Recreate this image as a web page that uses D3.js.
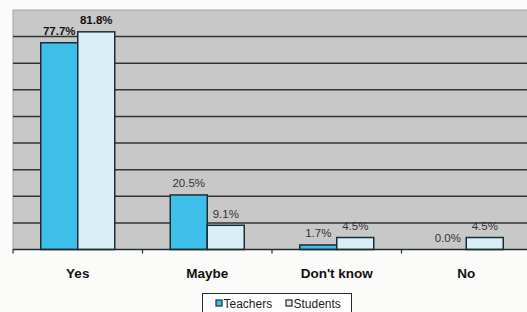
<!DOCTYPE html>
<html>
<head>
<meta charset="utf-8">
<script src="https://cdn.jsdelivr.net/npm/d3@7"></script>
<style>
  html, body { margin: 0; padding: 0; background: #fbfbfa; }
  svg { display: block; font-family: "Liberation Sans", Arial, sans-serif; }
</style>
</head>
<body>
<div id="chart"></div>
<script>
// data
var categories = ["Yes", "Maybe", "Don't know", "No"];
var seriesNames = ["Teachers", "Students"];
var teachers = [77.7, 20.5, 1.7, 0.0];
var students = [81.8, 9.1, 4.5, 4.5];
var yTicks = [10, 20, 30, 40, 50, 60, 70, 80];

var W = 527, H = 312;
var colors = {Teachers: "#3dbfe9", Students: "#d9eff8"};

var svg = d3.select("#chart").append("svg")
  .attr("width", W)
  .attr("height", H);

var x = d3.scaleBand().domain(categories).range([13, 531]).padding(0);
var x1 = d3.scaleBand().domain(seriesNames).range([0, x.bandwidth()])
  .paddingInner(0).paddingOuter(0.75);
var y = d3.scaleLinear().domain([0, 90]).range([249.5, 10]);

// plot area
svg.append("rect")
  .attr("x", x.range()[0])
  .attr("y", y(90))
  .attr("width", x.range()[1] - x.range()[0])
  .attr("height", y(0) - y(90))
  .attr("fill", "#c9c8c8")
  .attr("stroke", "#9fa7a7")
  .attr("stroke-width", 1);

// gridlines
svg.append("g").selectAll("line")
  .data(yTicks)
  .enter()
  .append("line")
  .attr("x1", x.range()[0])
  .attr("x2", x.range()[1])
  .attr("y1", function(d){ return y(d); })
  .attr("y2", function(d){ return y(d); })
  .attr("stroke", "#2c3537")
  .attr("stroke-width", 1.5);

// bars
var rows = categories.map(function(c, i){
  return {cat: c, vals: [
    {name: "Teachers", v: teachers[i]},
    {name: "Students", v: students[i]}
  ]};
});

var groups = svg.append("g").selectAll("g")
  .data(rows)
  .enter()
  .append("g")
  .attr("transform", function(d){ return "translate(" + x(d.cat) + ",0)"; });

groups.selectAll("rect")
  .data(function(d){ return d.vals; })
  .enter()
  .append("rect")
  .filter(function(d){ return d.v > 0; })
  .attr("x", function(d){ return x1(d.name); })
  .attr("y", function(d){ return y(d.v); })
  .attr("width", x1.bandwidth())
  .attr("height", function(d){ return y(0) - y(d.v); })
  .attr("fill", function(d){ return colors[d.name]; })
  .attr("stroke", "#1c2c33")
  .attr("stroke-width", 1.5);

// value labels
groups.each(function(row, gi){
  d3.select(this).selectAll("text")
    .data(row.vals)
    .enter()
    .append("text")
    .attr("x", function(d){ return x1(d.name) + x1.bandwidth() / 2; })
    .attr("y", function(d){ return y(d.v) - 7.5; })
    .attr("text-anchor", "middle")
    .attr("font-size", "11.5px")
    .attr("font-weight", gi === 0 ? "bold" : "normal")
    .attr("fill", gi === 0 ? "#111" : "#333")
    .text(function(d){ return d.v.toFixed(1) + "%"; });
});

// x axis
var xAxis = svg.append("g")
  .attr("transform", "translate(0," + y(0) + ")");
xAxis.append("line")
  .attr("x1", x.range()[0]).attr("x2", x.range()[1])
  .attr("stroke", "#1c2c33").attr("stroke-width", 1.5);
xAxis.selectAll("line.tick")
  .data(categories.map(function(c){ return x(c); }))
  .enter()
  .append("line")
  .attr("class", "tick")
  .attr("x1", function(d){ return d; })
  .attr("x2", function(d){ return d; })
  .attr("y1", 0).attr("y2", 4)
  .attr("stroke", "#1c2c33").attr("stroke-width", 1.2);
xAxis.selectAll("text")
  .data(categories)
  .enter()
  .append("text")
  .attr("x", function(d){ return x(d) + x.bandwidth() / 2; })
  .attr("y", 28)
  .attr("text-anchor", "middle")
  .attr("font-size", "13.5px")
  .attr("font-weight", "bold")
  .attr("fill", "#111")
  .text(function(d){ return d; });

// legend
var legend = svg.append("g").attr("class", "legend");
legend.append("rect")
  .attr("x", 202.5).attr("y", 293.5)
  .attr("width", 149).attr("height", 24)
  .attr("fill", "#fff")
  .attr("stroke", "#2a2a2a").attr("stroke-width", 1);

var legendX = [216, 286];
legend.selectAll("rect.key")
  .data(seriesNames)
  .enter()
  .append("rect")
  .attr("class", "key")
  .attr("x", function(d, i){ return legendX[i]; })
  .attr("y", 300)
  .attr("width", 6)
  .attr("height", 6)
  .attr("fill", function(d){ return colors[d]; })
  .attr("stroke", "#1c2c33")
  .attr("stroke-width", 1.2);
legend.selectAll("text")
  .data(seriesNames)
  .enter()
  .append("text")
  .attr("x", function(d, i){ return legendX[i] + 7.5; })
  .attr("y", 308)
  .attr("font-size", "12px")
  .attr("fill", "#222")
  .text(function(d){ return d; });
</script>
</body>
</html>
